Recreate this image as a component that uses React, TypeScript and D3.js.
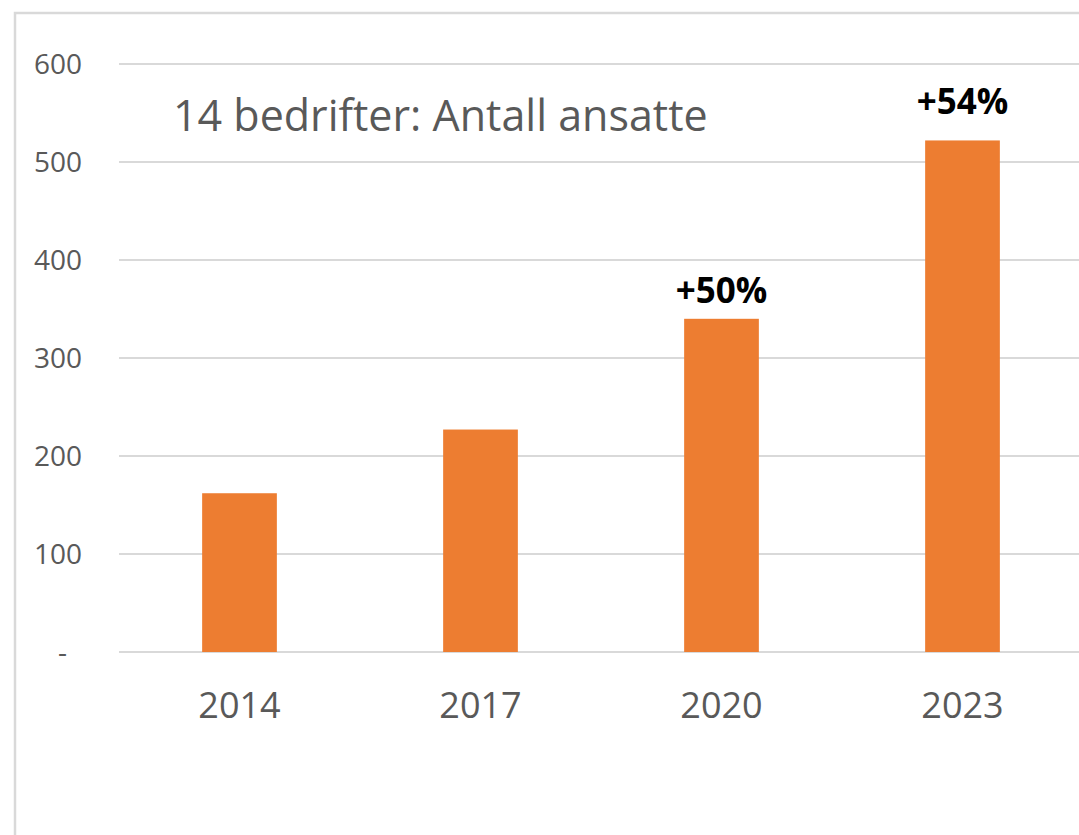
import React from "react";
import * as d3 from "d3";

const years = ["2014", "2017", "2020", "2023"];
const employees = [162, 227, 340, 522];
const yTicks = [0, 100, 200, 300, 400, 500, 600];
const annotations = [
  { year: "2020", text: "+50%", gap: 16 },
  { year: "2023", text: "+54%", gap: 26 },
];
const title = "14 bedrifter: Antall ansatte";

const W = 1079;
const H = 835;
const plotLeft = 119;
const plotRight = 1083;
const y0 = 652;
const yTop = 64;

export default function App() {
  const x = d3.scaleBand<string>().domain(years).range([plotLeft, plotRight]).paddingInner(0.69).paddingOuter(0.345);
  const y = d3.scaleLinear().domain([0, 600]).range([y0, yTop]);
  const grey = "#595959";
  const font = "'Open Sans', sans-serif";
  return (
    <svg width={W} height={H} style={{ position: "absolute", left: 0, top: 0, background: "#fff" }}>
      <rect x={15} y={13} width={W + 20} height={H + 20} fill="none" stroke="#d9d9d9" strokeWidth={2.5} />
      {yTicks.map((t) => (
        <g key={t}>
          <line x1={plotLeft} x2={W} y1={y(t)} y2={y(t)} stroke="#d9d9d9" strokeWidth={2} />
          <text
            x={t === 0 ? 67 : 82}
            y={y(t)}
            dy="0.35em"
            textAnchor="end"
            fontFamily={font}
            fontSize={28}
            fill={grey}
          >
            {t === 0 ? "-" : String(t)}
          </text>
        </g>
      ))}
      {years.map((yr, i) => (
        <rect
          key={yr}
          x={x(yr)}
          width={x.bandwidth()}
          y={y(employees[i])}
          height={y0 - y(employees[i])}
          fill="#ED7D31"
        />
      ))}
      {years.map((yr) => (
        <text
          key={"l" + yr}
          x={(x(yr) ?? 0) + x.bandwidth() / 2}
          y={718}
          textAnchor="middle"
          fontFamily={font}
          fontSize={36}
          fill={grey}
        >
          {yr}
        </text>
      ))}
      {annotations.map((a) => {
        const i = years.indexOf(a.year);
        return (
          <text
            key={"a" + a.year}
            x={(x(a.year) ?? 0) + x.bandwidth() / 2}
            y={y(employees[i]) - a.gap}
            textAnchor="middle"
            fontFamily={font}
            fontWeight="bold"
            fontSize={35}
            fill="#000"
          >
            {a.text}
          </text>
        );
      })}
      <text x={173} y={131} fontFamily={font} fontSize={43} fill={grey}>
        {title}
      </text>
    </svg>
  );
}
